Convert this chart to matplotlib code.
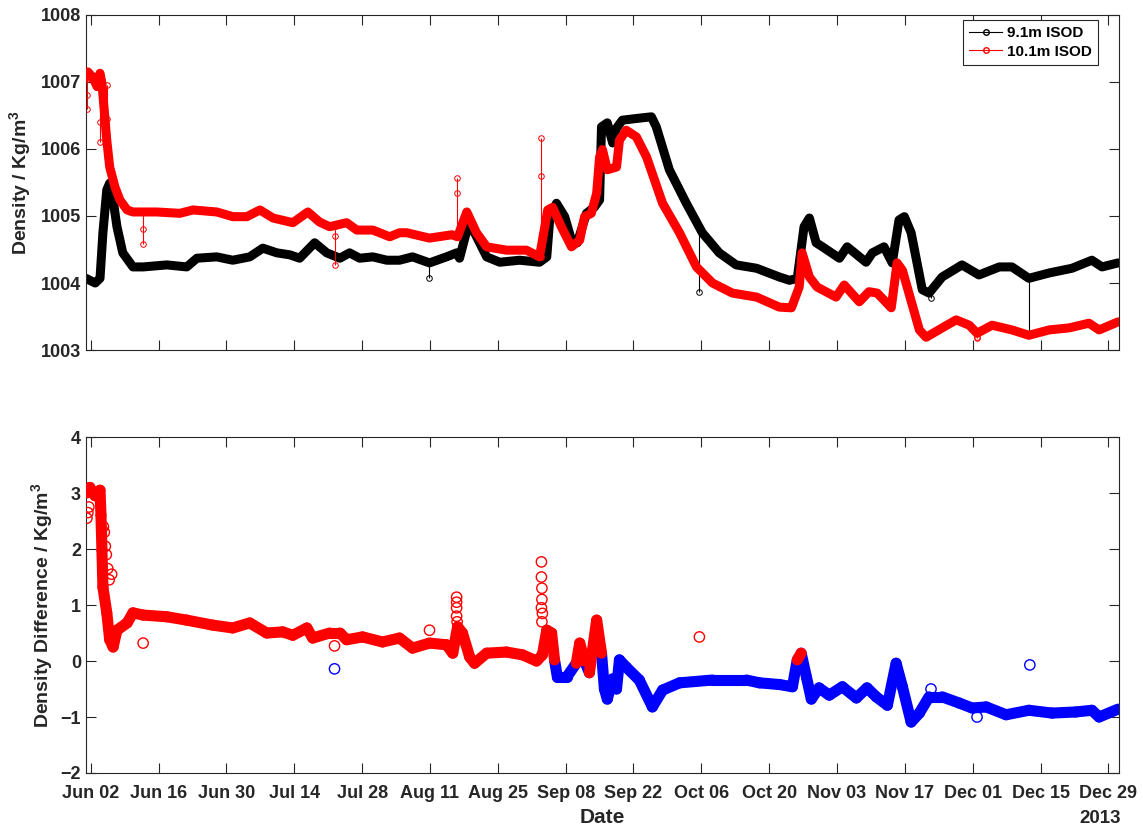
import numpy as np
import matplotlib
matplotlib.use('Agg')
from matplotlib import pyplot as plt
from matplotlib.collections import LineCollection
from matplotlib.lines import Line2D
import matplotlib.dates as mdates
from datetime import datetime

plt.rcParams['font.family'] = ['Liberation Sans', 'DejaVu Sans']
plt.rcParams['font.weight'] = 'bold'
plt.rcParams['mathtext.fontset'] = 'custom'
plt.rcParams['mathtext.rm'] = 'Liberation Sans:bold'
plt.rcParams['mathtext.bf'] = 'Liberation Sans:bold'

# days since 2013-06-01
blk_day = [0.0, 0.8, 1.9, 2.9, 3.5, 4.3, 4.9, 5.6, 6.4, 7.6, 9.7, 11.8, 16.7, 20.8, 22.9,
           27.0, 30.3, 33.8, 36.5, 39.4, 42.1, 44.1, 47.2, 49.7, 52.4, 54.4, 56.5, 59.2,
           62.1, 64.7, 67.4, 70.9, 74.4, 76.5, 77.1, 78.8, 80.2, 82.7, 85.4, 89.5, 93.6,
           95.1, 95.7, 97.1, 98.8, 100.2, 101.4, 103.3, 104.9, 106.0, 106.4, 107.6, 108.7,
           109.5, 110.7, 114.2, 116.7, 117.7, 120.4, 123.9, 127.2, 130.7, 134.2, 138.4,
           143.1, 145.2, 146.8, 148.2, 149.3, 150.7, 152.0, 155.5, 157.1, 161.0, 162.3,
           164.7, 166.4, 167.8, 168.9, 170.3, 172.6, 174.0, 176.7, 180.8, 184.3, 188.5,
           191.1, 194.6, 198.8, 203.5, 207.6, 209.7, 213.0]
blk_val = [1004.07, 1004.04, 1004.00, 1004.07, 1004.75, 1005.39, 1005.49, 1005.24, 1004.84,
           1004.45, 1004.24, 1004.24, 1004.27, 1004.24, 1004.37, 1004.39, 1004.34, 1004.39,
           1004.52, 1004.45, 1004.42, 1004.37, 1004.60, 1004.45, 1004.37, 1004.45, 1004.37,
           1004.39, 1004.34, 1004.34, 1004.39, 1004.30, 1004.39, 1004.45, 1004.37, 1004.84,
           1004.75, 1004.39, 1004.31, 1004.34, 1004.31, 1004.39, 1004.94, 1005.19, 1004.99,
           1004.64, 1004.60, 1005.04, 1005.13, 1005.24, 1006.33, 1006.39, 1006.09, 1006.31,
           1006.43, 1006.46, 1006.48, 1006.33, 1005.69, 1005.19, 1004.75, 1004.45, 1004.27,
           1004.22, 1004.09, 1004.04, 1004.07, 1004.84, 1004.97, 1004.60, 1004.54, 1004.37,
           1004.54, 1004.31, 1004.45, 1004.54, 1004.30, 1004.94, 1004.99, 1004.75, 1003.90,
           1003.85, 1004.09, 1004.27, 1004.12, 1004.24, 1004.24, 1004.07, 1004.15, 1004.22,
           1004.34, 1004.24, 1004.30]

red_day = [0.0, 0.4, 1.4, 2.3, 2.9, 3.3, 4.3, 4.9, 6.0, 7.0, 8.5, 9.7, 14.6, 19.4, 22.1,
           27.0, 30.3, 33.2, 35.9, 38.6, 42.7, 45.8, 48.2, 50.3, 53.8, 55.9, 59.2, 62.7,
           64.7, 66.2, 70.9, 75.5, 76.7, 78.6, 80.6, 82.7, 86.8, 90.9, 93.6, 95.3, 96.3,
           98.1, 100.2, 101.9, 102.9, 104.3, 105.4, 106.0, 106.6, 107.6, 109.5, 110.1,
           111.5, 113.6, 115.7, 119.0, 122.5, 126.0, 129.3, 133.4, 138.4, 143.1, 145.6,
           147.2, 147.8, 149.3, 150.9, 154.8, 156.5, 159.6, 161.6, 163.3, 166.2, 167.4,
           168.5, 172.0, 173.4, 176.7, 179.6, 182.3, 183.9, 187.0, 191.1, 194.6, 198.8,
           202.9, 207.0, 209.1, 213.0]
red_val = [1007.07, 1007.15, 1007.07, 1006.93, 1007.13, 1006.98, 1006.13, 1005.73, 1005.43,
           1005.24, 1005.09, 1005.06, 1005.06, 1005.04, 1005.09, 1005.06, 1004.99, 1004.99,
           1005.09, 1004.97, 1004.90, 1005.06, 1004.91, 1004.84, 1004.90, 1004.79, 1004.79,
           1004.69, 1004.75, 1004.75, 1004.67, 1004.72, 1004.69, 1005.06, 1004.75, 1004.54,
           1004.49, 1004.49, 1004.39, 1005.09, 1005.13, 1004.84, 1004.54, 1004.64, 1004.99,
           1005.04, 1005.34, 1005.88, 1005.99, 1005.69, 1005.73, 1006.13, 1006.28, 1006.18,
           1005.88, 1005.19, 1004.75, 1004.24, 1004.00, 1003.85, 1003.79, 1003.64, 1003.63,
           1003.94, 1004.45, 1004.09, 1003.94, 1003.79, 1003.97, 1003.72, 1003.87, 1003.85,
           1003.63, 1004.30, 1004.19, 1003.30, 1003.19, 1003.33, 1003.45, 1003.37, 1003.25,
           1003.37, 1003.30, 1003.22, 1003.30, 1003.33, 1003.40, 1003.30, 1003.42]

# single-sample spikes (day, from, to)
blk_spike_day = [70.9, 126.6, 194.6, 1.9, 174.4]
blk_spike_lo = [1004.07, 1003.87, 1003.24, 1004.0, 1003.78]
blk_spike_hi = [1004.30, 1004.75, 1004.07, 1004.0, 1003.85]

red_spike_day = [0.2, 3.0, 4.4, 11.8, 51.3, 76.5, 94.0, 183.9]
red_spike_lo = [1006.60, 1006.10, 1006.20, 1004.58, 1004.27, 1004.69, 1004.39, 1003.18]
red_spike_hi = [1007.05, 1007.13, 1006.95, 1005.06, 1004.85, 1005.57, 1006.16, 1003.25]
red_spike_mid = [1006.80, 1006.40, 1006.45, 1004.80, 1004.70, 1005.35, 1005.60, 1003.20]

# density difference 10.1m - 9.1m
diff_day = [0.2, 0.8, 1.9, 2.9, 3.1, 3.3, 3.5, 4.3, 4.9, 5.6, 6.4, 8.5, 9.7, 11.8, 16.7,
            20.8, 26.2, 30.3, 33.8, 37.3, 40.6, 42.7, 45.6, 46.8, 50.3, 52.4, 53.8, 57.1,
            61.2, 64.7, 67.4, 70.9, 74.4, 75.7, 76.7, 77.7, 79.2, 80.2, 82.7, 86.8, 90.1,
            93.0, 94.2, 95.1, 96.1, 96.7, 97.3, 99.2, 101.2, 101.9, 102.9, 103.9, 105.4,
            106.4, 107.0, 107.6, 108.7, 109.5, 110.1, 111.5, 114.2, 116.9, 119.0, 122.5,
            129.3, 136.3, 139.0, 143.1, 145.8, 146.8, 147.6, 148.7, 149.7, 151.3, 153.4,
            156.1, 159.0, 161.2, 163.1, 165.4, 167.2, 168.5, 170.3, 172.0, 174.0, 176.7,
            180.2, 182.9, 185.8, 189.9, 194.6, 199.4, 204.3, 207.6, 209.1, 213.0]
diff_val = [3.00, 3.10, 2.95, 3.05, 2.60, 1.98, 1.32, 0.86, 0.38, 0.25, 0.55, 0.68, 0.86,
            0.82, 0.79, 0.73, 0.64, 0.59, 0.68, 0.50, 0.52, 0.46, 0.59, 0.41, 0.50, 0.50,
            0.38, 0.43, 0.34, 0.41, 0.23, 0.32, 0.29, 0.14, 0.61, 0.50, 0.07, -0.04, 0.14,
            0.16, 0.11, 0.00, 0.11, 0.55, 0.50, 0.02, -0.29, -0.29, -0.04, 0.32, 0.00,
            -0.21, 0.73, 0.14, -0.50, -0.68, -0.32, -0.50, 0.02, -0.11, -0.34, -0.82,
            -0.52, -0.39, -0.34, -0.34, -0.39, -0.42, -0.46, 0.02, 0.14, -0.29, -0.68,
            -0.48, -0.61, -0.46, -0.66, -0.48, -0.64, -0.79, -0.04, -0.46, -1.09, -0.93,
            -0.64, -0.64, -0.75, -0.84, -0.82, -0.96, -0.88, -0.93, -0.91, -0.88, -1.00,
            -0.86]

# stray samples away from the main band
diff_out_day = [0.2, 0.4, 0.6, 3.6, 3.8, 4.0, 4.2, 4.5, 4.8, 5.3, 11.8, 51.3, 51.3, 70.9,
                76.5, 76.5, 76.5, 76.5, 76.6, 94.0, 94.0, 94.1, 94.1, 94.0, 94.2, 94.1,
                105.2, 105.4, 105.6, 126.6, 174.4, 183.9, 194.8]
diff_out_val = [2.55, 2.65, 2.75, 2.40, 2.30, 2.05, 1.90, 1.65, 1.45, 1.55, 0.32, 0.27,
                -0.14, 0.55, 1.14, 1.05, 0.95, 0.80, 0.70, 1.77, 1.50, 1.30, 1.10, 0.95,
                0.85, 0.70, 0.45, 0.60, 0.30, 0.43, -0.50, -1.00, -0.07]

tick_dates = ['Jun 02', 'Jun 16', 'Jun 30', 'Jul 14', 'Jul 28', 'Aug 11', 'Aug 25',
              'Sep 08', 'Sep 22', 'Oct 06', 'Oct 20', 'Nov 03', 'Nov 17', 'Dec 01',
              'Dec 15', 'Dec 29']

t0 = mdates.date2num(datetime(2013, 6, 1))
def tn(d):
    return t0 + np.asarray(d, dtype=float)

ticks = [mdates.date2num(datetime.strptime(s + ' 2013', '%b %d %Y')) for s in tick_dates]
edge = '#262626'

fig = plt.figure(figsize=(11.43, 8.31), dpi=100)
ax1 = fig.add_axes([0.0752, 0.5788, 0.9038, 0.4032])
ax2 = fig.add_axes([0.0752, 0.0698, 0.9038, 0.4043])

for ax in (ax1, ax2):
    ax.set_xlim(t0, t0 + 213.2)
    ax.set_xticks(ticks)
    ax.tick_params(direction='in', length=7, width=0.8, top=True, right=True,
                   colors=edge, labelsize=13)
    ax.tick_params(axis='x', pad=9)
    for s in ax.spines.values():
        s.set_color(edge)
        s.set_linewidth(0.8)
    for lab in ax.get_yticklabels():
        lab.set_fontweight('bold')

# --- top: densities
ax1.plot(tn(blk_day), blk_val, color='k', lw=6.5, solid_capstyle='round',
         solid_joinstyle='round', zorder=2)
ax1.vlines(tn(blk_spike_day), blk_spike_lo, blk_spike_hi, color='k', lw=0.8, zorder=2)
ax1.plot(tn(blk_spike_day), blk_spike_lo, 'o', color='k', mfc='none', ms=4, mew=0.7)
ax1.plot(tn(red_day), red_val, color='r', lw=6.5, solid_capstyle='round',
         solid_joinstyle='round', zorder=3)
ax1.vlines(tn(red_spike_day), red_spike_lo, red_spike_hi, color='r', lw=0.8, zorder=3)
for yy in (red_spike_lo, red_spike_hi, red_spike_mid):
    ax1.plot(tn(red_spike_day), yy, 'o', color='r', mfc='none', ms=4, mew=0.7, zorder=3)

ax1.set_ylim(1003, 1008)
ax1.set_yticks([1003, 1004, 1005, 1006, 1007, 1008])
ax1.set_xticklabels([])
ax1.set_ylabel('Density / Kg/m$^3$', fontsize=14, fontweight='bold', color=edge, labelpad=5)

handles = [Line2D([], [], color='k', marker='o', ms=4, mfc='none', lw=0.8),
           Line2D([], [], color='r', marker='o', ms=4, mfc='none', lw=0.8)]
leg = ax1.legend(handles, ['9.1m ISOD', '10.1m ISOD'], loc='upper right',
                 bbox_to_anchor=(0.9797, 0.985), borderaxespad=0,
                 fancybox=False, framealpha=1, edgecolor=edge, fontsize=11,
                 handlelength=2.2, handletextpad=0.3, borderpad=0.4, labelspacing=0.3)
for t in leg.get_texts():
    t.set_fontweight('bold')
leg.get_frame().set_linewidth(0.8)

# --- bottom: difference, red where positive, blue where negative
x = tn(diff_day)
y = np.array(diff_val)
segs = np.stack([np.column_stack([x[:-1], y[:-1]]), np.column_stack([x[1:], y[1:]])], axis=1)
pos = (y[:-1] + y[1:]) / 2 >= 0
ax2.add_collection(LineCollection(segs[~pos], colors='b', linewidths=8,
                                  capstyle='round', joinstyle='round', zorder=2))
ax2.add_collection(LineCollection(segs[pos], colors='r', linewidths=8,
                                  capstyle='round', joinstyle='round', zorder=3))
xo = tn(diff_out_day)
yo = np.array(diff_out_val)
ax2.scatter(xo[yo >= 0], yo[yo >= 0], s=55, facecolors='none', edgecolors='r',
            linewidths=1.0, zorder=4)
ax2.scatter(xo[yo < 0], yo[yo < 0], s=55, facecolors='none', edgecolors='b',
            linewidths=1.0, zorder=4)

ax2.set_ylim(-2, 4)
ax2.set_yticks(range(-2, 5))
ax2.set_xticklabels(tick_dates, fontweight='bold')
ax2.set_ylabel('Density Difference / Kg/m$^3$', fontsize=14, fontweight='bold',
               color=edge, labelpad=3)
ax2.set_xlabel('Date', fontsize=15, fontweight='bold', color=edge, labelpad=4)
ax2.text(0.9816, -0.136, '2013', transform=ax2.transAxes,
         ha='center', va='center', fontsize=13.5, fontweight='bold', color=edge)

fig.savefig('out.png', dpi=100)
